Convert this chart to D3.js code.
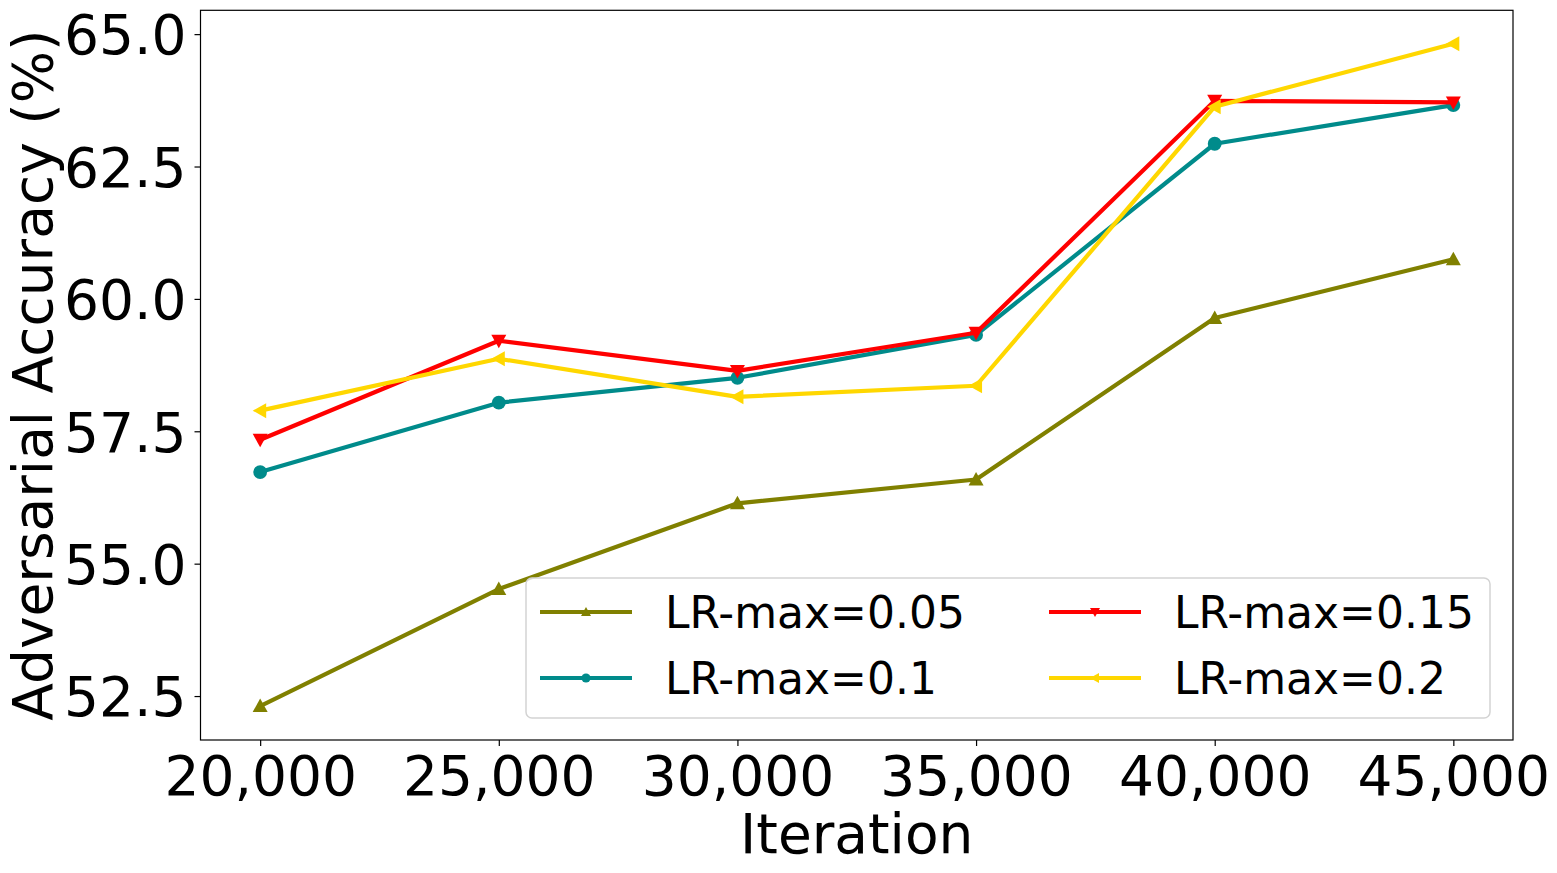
<html>
<head>
  <script src="https://d3js.org/d3.v7.min.js"></script>
  <style>
    body { margin: 0; background: white; }
    text { font-family: "DejaVu Sans", sans-serif; }
  </style>
</head>
<body>
<svg id="chart"></svg>
<script>
  // data
  const iterations = [20000, 25000, 30000, 35000, 40000, 45000]
  const lr005 = [52.31, 54.52, 56.14, 56.59, 59.64, 60.75]
  const lr01  = [56.73, 58.04, 58.51, 59.32, 62.93, 63.66]
  const lr015 = [57.34, 59.21, 58.64, 59.36, 63.74, 63.71]
  const lr02  = [57.89, 58.87, 58.15, 58.36, 63.63, 64.82]
  const seriesNames = ["LR-max=0.05", "LR-max=0.1", "LR-max=0.15", "LR-max=0.2"]
  const seriesColors = ["#808000", "#008b8b", "#ff0000", "#ffd700"]
  const seriesMarkers = ["up", "circle", "down", "left"]
  const yTicks = [52.5, 55.0, 57.5, 60.0, 62.5, 65.0]

  const W = 1557, H = 873
  const margin = {left: 200.5, right: W - 1513, top: 10.3, bottom: H - 740}

  const svg = d3.select("#chart").attr("width", W).attr("height", H)

  const x = d3.scaleLinear().domain([18750, 46250]).range([margin.left, W - margin.right])
  const y = d3.scaleLinear().domain([51.67, 65.45]).range([H - margin.bottom, margin.top])

  const series = [lr005, lr01, lr015, lr02].map((vals, i) => ({
    name: seriesNames[i], color: seriesColors[i], marker: seriesMarkers[i],
    points: vals.map((v, j) => [iterations[j], v])
  }))

  function markerPath(kind, s) {
    // s = half size
    if (kind == "up") return `M0,${-s}L${s},${s*0.8}L${-s},${s*0.8}Z`
    if (kind == "down") return `M0,${s}L${s},${-s*0.8}L${-s},${-s*0.8}Z`
    if (kind == "left") return `M${-s},0L${s*0.8},${-s}L${s*0.8},${s}Z`
    return d3.symbol(d3.symbolCircle, Math.PI * s * s * 0.85)()
  }

  // axes
  const fmt = d3.format(",")
  const xAxis = svg.append("g")
    .attr("transform", "translate(0," + (H - margin.bottom) + ")")
    .call(d3.axisBottom(x).tickValues(iterations).tickFormat(fmt).tickSize(6).tickPadding(10))
  xAxis.select(".domain").remove()
  xAxis.selectAll("line").attr("stroke", "black").attr("stroke-width", 1.2)
  xAxis.selectAll("text").attr("font-size", 55).attr("fill", "black").attr("dy", null).attr("y", 55)

  const yAxis = svg.append("g")
    .attr("transform", "translate(" + margin.left + ",0)")
    .call(d3.axisLeft(y).tickValues(yTicks).tickFormat(d3.format(".1f")).tickSize(6).tickPadding(8))
  yAxis.select(".domain").remove()
  yAxis.selectAll("line").attr("stroke", "black").attr("stroke-width", 1.2)
  yAxis.selectAll("text").attr("font-size", 55).attr("fill", "black").attr("dy", "0.36em")

  // frame
  svg.append("rect")
    .attr("x", margin.left).attr("y", margin.top)
    .attr("width", W - margin.left - margin.right)
    .attr("height", H - margin.top - margin.bottom)
    .attr("fill", "none").attr("stroke", "black").attr("stroke-width", 1.2)

  const line = d3.line().x(d => x(d[0])).y(d => y(d[1]))

  series.forEach(s => {
    const g = svg.append("g")
    g.append("path")
      .attr("d", line(s.points))
      .attr("fill", "none")
      .attr("stroke", s.color)
      .attr("stroke-width", 4.2)
      .attr("stroke-linejoin", "round")
    g.selectAll("path.mk")
      .data(s.points)
      .join("path")
      .attr("class", "mk")
      .attr("transform", d => "translate(" + x(d[0]) + "," + y(d[1]) + ")")
      .attr("d", markerPath(s.marker, 7.5))
      .attr("fill", s.color)
  })

  // legend
  const legend = svg.append("g")
  legend.append("rect")
    .attr("x", 526).attr("y", 578).attr("width", 964).attr("height", 140)
    .attr("rx", 6).attr("fill", "white").attr("fill-opacity", 0.8)
    .attr("stroke", "#d3d3d3").attr("stroke-width", 1.5)
  const colX = [540, 1049], rowY = [612, 678]
  series.forEach((s, i) => {
    const lx = colX[i < 2 ? 0 : 1], ly = rowY[i % 2]
    legend.append("line")
      .attr("x1", lx).attr("x2", lx + 92).attr("y1", ly).attr("y2", ly)
      .attr("stroke", s.color).attr("stroke-width", 4.2)
    legend.append("path")
      .attr("transform", "translate(" + (lx + 46) + "," + ly + ")")
      .attr("d", markerPath(s.marker, 5))
      .attr("fill", s.color)
    legend.append("text")
      .attr("x", lx + 125).attr("y", ly + 16)
      .attr("font-size", 44)
      .text(s.name)
  })

  // axis titles
  svg.append("text")
    .attr("x", (margin.left + W - margin.right) / 2).attr("y", 853)
    .attr("text-anchor", "middle").attr("font-size", 55)
    .text("Iteration")
  svg.append("text")
    .attr("transform", "translate(52," + ((margin.top + H - margin.bottom) / 2) + ") rotate(-90)")
    .attr("text-anchor", "middle").attr("font-size", 55)
    .text("Adversarial Accuracy (%)")
</script>
</body>
</html>
